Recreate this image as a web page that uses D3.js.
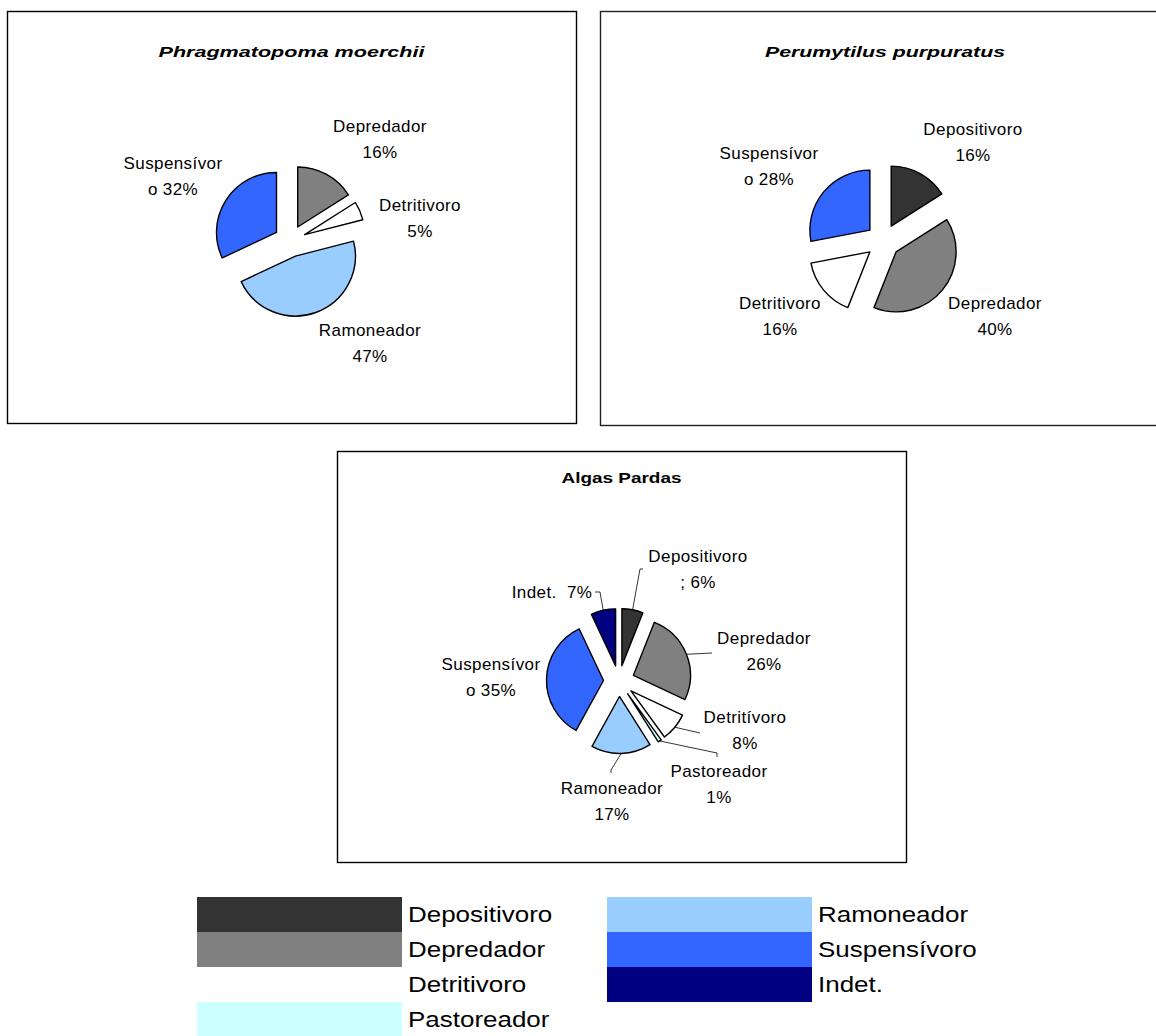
<!DOCTYPE html>
<html><head><meta charset="utf-8">
<script src="https://cdn.jsdelivr.net/npm/d3@7"></script>
<style>body{margin:0;background:#fff;} svg{display:block;font-family:Arial,"Liberation Sans",sans-serif;}</style>
</head><body><svg id="c" width="1156" height="1036"></svg>
<script>
// ---------- data ----------
const categories = ["Depositivoro","Depredador","Detritivoro","Pastoreador","Ramoneador","Suspensívoro","Indet."];
const categoryColors = ["#333333","#808080","#FFFFFF","#CCFFFF","#99CCFF","#3366FF","#000080"];
const chartTitles = ["Phragmatopoma moerchii","Perumytilus purpuratus","Algas Pardas"];

const phragCategories = ["Depredador","Detritivoro","Ramoneador","Suspensívoro"];
const phragValues = [16,5,47,32];
const phragLabels = [["Depredador","16%"],["Detritivoro","5%"],["Ramoneador","47%"],["Suspensívor","o 32%"]];

const perumCategories = ["Depositivoro","Depredador","Detritivoro","Suspensívoro"];
const perumValues = [16,40,16,28];
const perumLabels = [["Depositivoro","16%"],["Depredador","40%"],["Detritivoro","16%"],["Suspensívor","o 28%"]];

const algasCategories = ["Depositivoro","Depredador","Detritivoro","Pastoreador","Ramoneador","Suspensívoro","Indet."];
const algasValues = [6,26,8,1,17,35,7];
const algasLabels = [["Depositivoro","; 6%"],["Depredador","26%"],["Detritívoro","8%"],["Pastoreador","1%"],["Ramoneador","17%"],["Suspensívor","o 35%"],["Indet.  7%"]];

const legendLabels = ["Depositivoro","Depredador","Detritivoro","Pastoreador","Ramoneador","Suspensívoro","Indet."];

// ---------- layout ----------
const color = d3.scaleOrdinal().domain(categories).range(categoryColors);
const svg = d3.select("#c");

const charts = [
  { title: chartTitles[0], italic: true, cats: phragCategories, vals: phragValues, labels: phragLabels,
    box: [7, 11, 576, 423], boxStroke: "#000", titleY: 52, titleW: 266, cx: 290, cy: 241, r: 60, explode: 16,
    labelPos: [[380,139],[420,218.5],[370,343.5],[173,176.5]], leaders: null },
  { title: chartTitles[1], italic: true, cats: perumCategories, vals: perumValues, labels: perumLabels,
    box: [600, 11, 1170, 425], boxStroke: "#222", titleY: 52, titleW: 240, cx: 883, cy: 241, r: 60, explode: 17,
    labelPos: [[973,142],[995,316],[780,316],[769,166]], leaders: null },
  { title: chartTitles[2], italic: false, cats: algasCategories, vals: algasValues, labels: algasLabels,
    box: [337, 451, 906, 862], boxStroke: "#000", titleY: 478, titleW: 120, cx: 619, cy: 681, r: 57, explode: 15.5,
    labelPos: [[698,569],[764,651.5],[745,730.5],[719,784.5],[612,801.5],[491,677.5],[552,592]],
    leaders: [[[640,569],[643,569]], [[712,653]], [[700,733]], [[717,753],[717,757]], [[611,770],[611,773]], null, [[600,592],[595,592]]] }
];

const pie = d3.pie().sort(null).value(d => d.v);
const lineH = 26;

charts.forEach(ch => {
  const g = svg.append("g");
  const [x0, y0, x1, y1] = ch.box;
  g.append("rect").attr("x", x0 + 0.5).attr("y", y0 + 0.5).attr("width", x1 - x0).attr("height", y1 - y0)
    .attr("fill", "#fff").attr("stroke", ch.boxStroke).attr("stroke-width", 1.4);

  const t = g.append("text").attr("x", (x0 + x1) / 2).attr("y", ch.titleY).attr("dy", "0.35em")
    .attr("text-anchor", "middle").attr("font-weight", "bold").attr("font-size", 15)
    .attr("font-style", ch.italic ? "italic" : "normal").text(ch.title);
  if (ch.titleW) t.attr("textLength", ch.titleW).attr("lengthAdjust", "spacingAndGlyphs");

  const data = ch.cats.map((c, i) => ({ c, v: ch.vals[i], lab: ch.labels[i] }));
  const arcs = pie(data);
  const arc = d3.arc().innerRadius(0).outerRadius(ch.r);

  const pg = g.append("g").attr("transform", `translate(${ch.cx},${ch.cy})`);
  arcs.forEach((a, i) => {
    const mid = (a.startAngle + a.endAngle) / 2;
    const ox = Math.sin(mid) * ch.explode, oy = -Math.cos(mid) * ch.explode;
    pg.append("path").attr("d", arc(a)).attr("transform", `translate(${ox},${oy})`)
      .attr("fill", color(a.data.c)).attr("stroke", "#000").attr("stroke-width", 1.4)
      .attr("stroke-linejoin", "round");

    // leader line
    if (ch.leaders && ch.leaders[i]) {
      const rr = ch.r + ch.explode;
      const start = [ch.cx + Math.sin(mid) * rr, ch.cy - Math.cos(mid) * rr];
      g.append("path").attr("d", d3.line()([start, ...ch.leaders[i]]))
        .attr("fill", "none").attr("stroke", "#000").attr("stroke-width", 0.8);
    }

    // label
    const [lx, ly] = ch.labelPos[i];
    const lines = a.data.lab;
    const txt = g.append("text").attr("text-anchor", "middle").attr("font-size", 17)
      .attr("fill", "#000").attr("letter-spacing", 0.4).attr("xml:space", "preserve");
    lines.forEach((ln, k) => {
      txt.append("tspan").attr("x", lx).attr("y", ly + (k - (lines.length - 1) / 2) * lineH)
        .attr("dy", "0.35em").text(ln);
    });
  });
});

// ---------- legend ----------
const legendCols = [[0,1,2,3],[4,5,6]];
const colX = [197, 607];
const swW = 205, rowH = 35, legTop = 897;
legendCols.forEach((col, ci) => {
  col.forEach((idx, ri) => {
    const y = legTop + ri * rowH;
    svg.append("rect").attr("x", colX[ci]).attr("y", y).attr("width", swW).attr("height", rowH)
      .attr("fill", color(legendLabels[idx]));
    const t = svg.append("text").attr("x", colX[ci] + swW + 6).attr("y", y + rowH / 2).attr("dy", "0.36em")
      .attr("font-size", 22).attr("fill", "#000").text(legendLabels[idx]);
    const w = t.node().getComputedTextLength();
    t.attr("textLength", w * 1.18).attr("lengthAdjust", "spacingAndGlyphs");
  });
});
</script></body></html>
